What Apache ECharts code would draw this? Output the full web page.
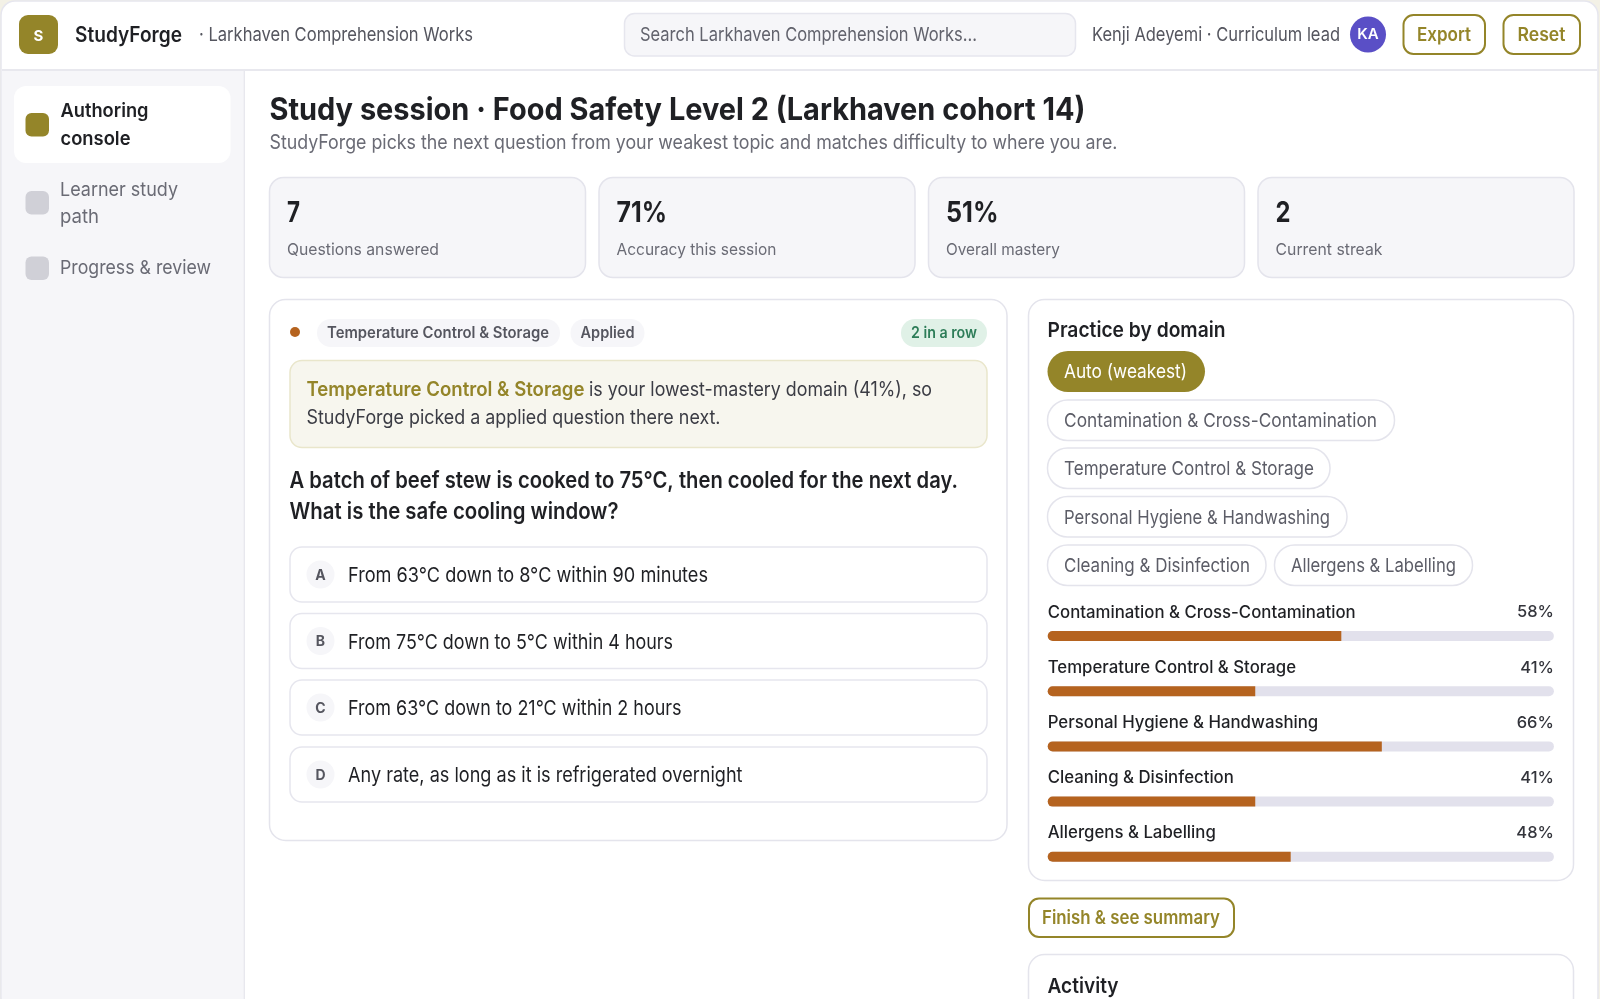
<!DOCTYPE html>
<html>
<head>
<meta charset="utf-8" />
<title>StudyForge</title>
<style>
	*{margin:0;padding:0;}
	body{background:#f3f1e6;overflow:hidden;}
	#main{width:1600px;height:999px;}
</style>
<script src="https://cdn.jsdelivr.net/npm/echarts@6/dist/echarts.min.js"></script>
</head>
<body>
<div id="main"></div>
<script>
// domain mastery
var domains = ['Contamination & Cross-Contamination','Temperature Control & Storage','Personal Hygiene & Handwashing','Cleaning & Disinfection','Allergens & Labelling'];
var mastery = [58,41,66,41,48];
var kpiValues = ['7','71%','51%','2'];
var kpiLabels = ['Questions answered','Accuracy this session','Overall mastery','Current streak'];
var optionLetters = ['A','B','C','D'];
var optionTexts = ['From 63°C down to 8°C within 90 minutes','From 75°C down to 5°C within 4 hours','From 63°C down to 21°C within 2 hours','Any rate, as long as it is refrigerated overnight'];

var OLIVE='#948529', RUST='#b5631f', LINE='#e6e6ee', SOFT='#f6f6f9', INK='#1f2024', GREY='#6a6b75';
var FONT='Inter, sans-serif';

var g = [];
var ctx = document.createElement('canvas').getContext('2d');

function box(x,y,w,h,r,fill,stroke,lw){
	g.push({type:'rect',shape:{x:x,y:y,width:w,height:h,r:r},
		style:{fill:fill||'transparent',stroke:stroke||null,lineWidth:lw||1},silent:true});
}
// w = width the text takes in the picture, the glyphs get squeezed to it
function txt(s,x,y,size,weight,color,w,align){
	var font=weight+' '+size+'px '+FONT;
	ctx.font=font;
	var sx=w?w/ctx.measureText(s).width:1;
	g.push({type:'text',x:x,y:y+1,scaleX:sx,silent:true,
		style:{text:s,x:0,y:0,font:font,fill:color,textAlign:align||'left',textVerticalAlign:'middle'}});
}

// window
box(1,1,1597,1010,14,'#ffffff','#e6e6ee',1.5);
box(2,70,241.5,929,0,'#f6f6f9');
box(2,69,1595,2,0,'#e8e8ee');
box(243.5,70,1.5,929,0,'#e8e8ee');

// top bar
box(19,15,39,39,9,OLIVE);
txt('S',38.5,35,15,700,'#ffffff',null,'center');
txt('StudyForge',75,34.5,21,600,INK,107);
txt('· Larkhaven Comprehension Works',199,34.5,19,400,'#55565f',274);
box(624.5,13.5,451,42.5,10,SOFT,LINE,1.5);
txt('Search Larkhaven Comprehension Works...',640,34.5,19,400,'#62636d',337);
txt('Kenji Adeyemi · Curriculum lead',1092,34.5,19,400,'#55565f',248);
g.push({type:'circle',silent:true,shape:{cx:1368,cy:34.5,r:18},style:{fill:'#5a4fc6'}});
txt('KA',1368,33.5,15,600,'#ffffff',null,'center');
box(1403.5,15,81.5,39,10,'#ffffff',OLIVE,2);
txt('Export',1444,34.5,18.5,600,OLIVE,54,'center');
box(1503.5,15,76.5,39,10,'#ffffff',OLIVE,2);
txt('Reset',1541.5,34.5,18.5,600,OLIVE,48,'center');

// side nav
box(14,86,216.5,77,12,'#ffffff');
box(25.5,113,23.5,23.5,6,OLIVE);
txt('Authoring',60.5,110,19,600,INK,88);
txt('console',60.5,138,19,600,INK,70);
box(25.5,191,23.5,23.5,6,'#d0d0d7');
txt('Learner study',60,189.5,19,400,GREY,118);
txt('path',60,216.5,19,400,GREY,39);
box(25.5,256.5,23.5,23.5,6,'#d0d0d7');
txt('Progress & review',60,267.5,19,400,GREY,151);

// heading
txt('Study session · Food Safety Level 2 (Larkhaven cohort 14)',269.5,109.5,31,700,INK,816);
txt('StudyForge picks the next question from your weakest topic and matches difficulty to where you are.',269.5,142,20,400,GREY,848);

// kpi cards
var kpiX=[269.5,599,928.5,1258], kpiValW=[13,50.5,52.5,15], kpiLabW=[152,160,114,107];
for(var i=0;i<4;i++){
	box(kpiX[i],177.5,316,100,14,SOFT,'#e4e4ec',1.5);
	txt(kpiValues[i],kpiX[i]+17.5,212.5,29,700,INK,kpiValW[i]);
	txt(kpiLabels[i],kpiX[i]+17.5,249,16.5,400,GREY,kpiLabW[i]);
}

// question card
box(269.5,299.5,737.5,541,16,'#ffffff','#e4e4ec',1.5);
g.push({type:'circle',silent:true,shape:{cx:295,cy:332,r:5},style:{fill:RUST}});
box(317,319,243,28,14,SOFT);
txt('Temperature Control & Storage',327,332.5,15.5,600,'#55565f',222);
box(570.5,319,74,28,14,SOFT);
txt('Applied',580.5,332.5,15.5,600,'#55565f',54);
box(901,319,86,28,14,'#e0f1e7');
txt('2 in a row',911,332.5,15.5,600,'#2d7d58',66);
box(290,360.5,697,87,12,'#f7f6ee','#e9e6cb',1.5);
txt('Temperature Control & Storage',306.5,389,19.5,600,OLIVE,278);
txt('is your lowest-mastery domain (41%), so',589,389,19.5,400,'#3b3c44',343);
txt('StudyForge picked a applied question there next.',306.5,417.5,19.5,400,'#3b3c44',414);
txt('A batch of beef stew is cooked to 75°C, then cooled for the next day.',289.5,480.5,22.5,600,INK,668.5);
txt('What is the safe cooling window?',289.5,511.5,22.5,600,INK,329);
var optTop=[547,613.5,680,747], optW=[360,325,333.5,394.5];
for(var j=0;j<4;j++){
	box(290,optTop[j],697,55,12,'#ffffff','#e6e6ee',1.5);
	g.push({type:'circle',silent:true,shape:{cx:320.5,cy:optTop[j]+27.5,r:14},style:{fill:SOFT}});
	txt(optionLetters[j],320.5,optTop[j]+27.5,14,700,'#55565f',null,'center');
	txt(optionTexts[j],348,optTop[j]+28,20.5,400,INK,optW[j]);
}

// practice panel
box(1028.5,299.5,545,581,16,'#ffffff','#e4e4ec',1.5);
txt('Practice by domain',1047.5,330,20.5,600,INK,178);
box(1047.5,351,157.5,41,20.5,OLIVE);
txt('Auto (weakest)',1064,371,19,400,'#ffffff',123);
var pillX=[1047.5,1047.5,1047.5,1047.5,1274.5], pillY=[400,448,496.5,545,545], pillW=[347,282.5,299.5,218.5,198], pillT=[313,250,266,186,165];
for(var k=0;k<5;k++){
	box(pillX[k],pillY[k],pillW[k],40.5,20,'#ffffff','#e4e4ec',1.5);
	txt(domains[k],pillX[k]+16.5,pillY[k]+20.5,19,400,'#5c5d67',pillT[k]);
}
box(1029,898.5,205,38.5,10,'#ffffff',OLIVE,2);
txt('Finish & see summary',1042,917,18.5,600,OLIVE,178);
box(1028.5,954.5,545,80,16,'#ffffff','#e4e4ec',1.5);
txt('Activity',1047.5,985.5,20.5,600,INK,71);

var chart = echarts.init(document.getElementById('main'));
chart.setOption({
	animation:false,
	backgroundColor:'transparent',
	grid:{left:1047.7,right:46.1,top:608.4,height:276,containLabel:false},
	xAxis:{type:'value',min:0,max:100,show:false},
	yAxis:[{
		type:'category',inverse:true,data:domains,
		axisLine:{show:false},axisTick:{show:false},
		axisLabel:{inside:true,margin:0,align:'left',verticalAlign:'bottom',padding:[0,0,15,0],
			fontFamily:FONT,fontSize:16.8,fontWeight:500,color:INK}
	},{
		type:'category',inverse:true,position:'right',data:mastery.map(function(v){return v+'%'}),
		axisLine:{show:false},axisTick:{show:false},
		axisLabel:{inside:true,margin:0,align:'right',verticalAlign:'bottom',padding:[0,0,15,0],
			fontFamily:FONT,fontSize:16.5,fontWeight:500,color:'#33343b'}
	}],
	series:[{
		type:'bar',data:mastery,barWidth:10,
		itemStyle:{color:RUST,borderRadius:[5,0,0,5]},
		showBackground:true,backgroundStyle:{color:'#e2e1ec',borderRadius:5}
	}],
	graphic:g
});
</script>
</body>
</html>
